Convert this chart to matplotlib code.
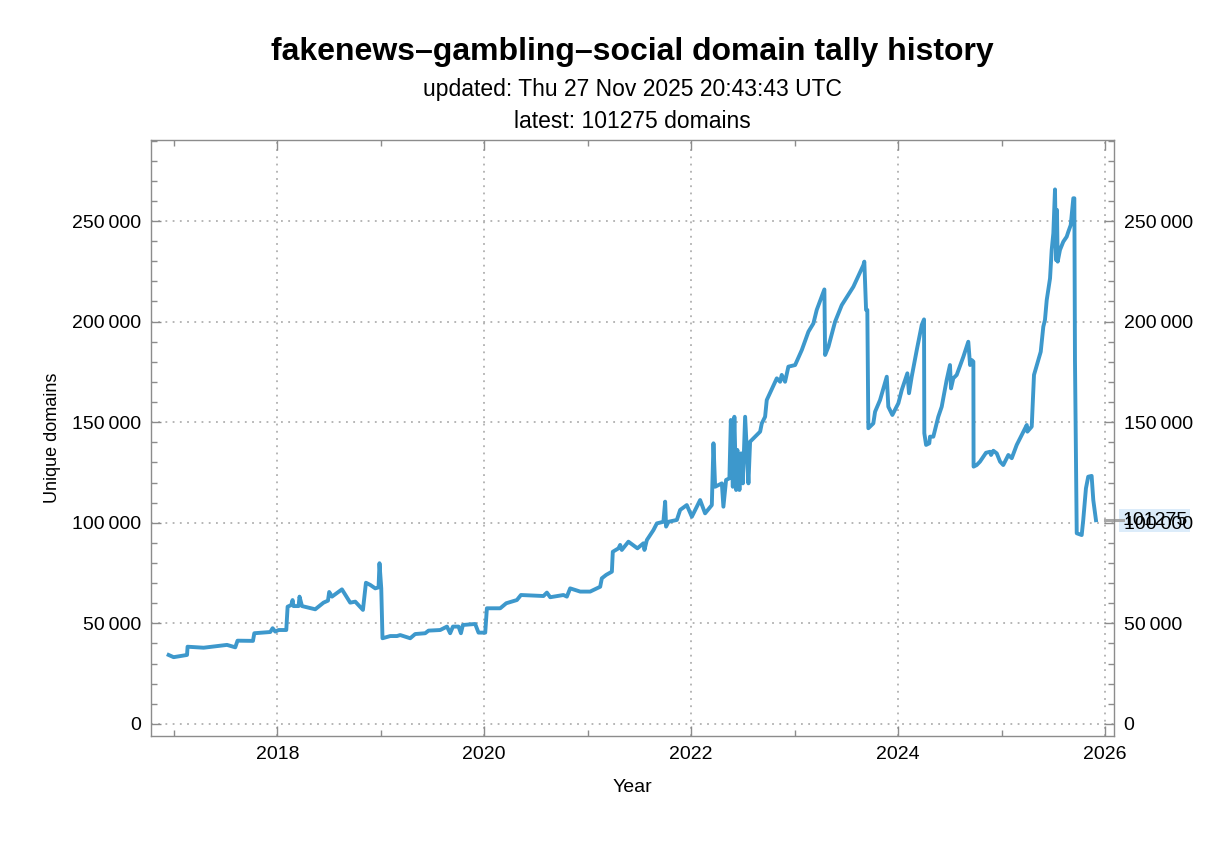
import matplotlib
matplotlib.use("Agg")
import matplotlib.pyplot as plt
from matplotlib.ticker import MultipleLocator, FuncFormatter

plt.rcParams['font.family'] = ['Liberation Sans', 'DejaVu Sans']

# history (decimal year, unique domains)
years = [
    2016.950, 2016.998, 2017.128, 2017.133, 2017.288, 2017.514, 2017.594, 2017.616, 2017.765, 2017.778,
    2017.932, 2017.955, 2017.981, 2018.013, 2018.087, 2018.100, 2018.135, 2018.148, 2018.157, 2018.206,
    2018.215, 2018.239, 2018.367, 2018.447, 2018.490, 2018.502, 2018.529, 2018.625, 2018.705, 2018.754,
    2018.828, 2018.857, 2018.899, 2018.947, 2018.979, 2018.988, 2019.005, 2019.017, 2019.092, 2019.157,
    2019.188, 2019.285, 2019.333, 2019.430, 2019.462, 2019.575, 2019.640, 2019.671, 2019.698, 2019.752,
    2019.775, 2019.794, 2019.913, 2019.945, 2020.010, 2020.026, 2020.155, 2020.213, 2020.316, 2020.355,
    2020.573, 2020.606, 2020.638, 2020.766, 2020.799, 2020.831, 2020.928, 2021.024, 2021.121, 2021.137,
    2021.179, 2021.234, 2021.243, 2021.298, 2021.314, 2021.330, 2021.394, 2021.481, 2021.539, 2021.549,
    2021.572, 2021.636, 2021.669, 2021.732, 2021.749, 2021.758, 2021.781, 2021.862, 2021.894, 2021.958,
    2022.007, 2022.087, 2022.135, 2022.200, 2022.216, 2022.232, 2022.297, 2022.312, 2022.338, 2022.370,
    2022.384, 2022.403, 2022.418, 2022.435, 2022.447, 2022.467, 2022.483, 2022.500, 2022.522, 2022.554,
    2022.570, 2022.667, 2022.683, 2022.715, 2022.731, 2022.828, 2022.860, 2022.876, 2022.908, 2022.940,
    2023.005, 2023.070, 2023.134, 2023.182, 2023.214, 2023.288, 2023.295, 2023.327, 2023.391, 2023.456,
    2023.568, 2023.665, 2023.674, 2023.691, 2023.703, 2023.713, 2023.761, 2023.778, 2023.826, 2023.891,
    2023.906, 2023.945, 2024.003, 2024.036, 2024.090, 2024.106, 2024.132, 2024.181, 2024.229, 2024.251,
    2024.254, 2024.271, 2024.302, 2024.309, 2024.341, 2024.389, 2024.422, 2024.470, 2024.502, 2024.512,
    2024.534, 2024.567, 2024.631, 2024.679, 2024.696, 2024.712, 2024.728, 2024.730, 2024.760, 2024.792,
    2024.850, 2024.889, 2024.899, 2024.921, 2024.954, 2024.986, 2025.017, 2025.066, 2025.099, 2025.147,
    2025.195, 2025.244, 2025.250, 2025.292, 2025.314, 2025.379, 2025.404, 2025.420, 2025.437, 2025.469,
    2025.485, 2025.501, 2025.517, 2025.527, 2025.536, 2025.543, 2025.565, 2025.597, 2025.630, 2025.646,
    2025.669, 2025.694, 2025.704, 2025.710, 2025.727, 2025.775, 2025.790, 2025.816, 2025.838, 2025.871,
    2025.887, 2025.913,
]
domains = [
    34300, 33200, 34300, 38400, 37900, 39300, 38100, 41400, 41300, 45100,
    45700, 47600, 45900, 46700, 46700, 58300, 59100, 61600, 58600, 58600,
    63300, 58600, 57000, 60300, 61300, 65600, 63300, 66900, 60300, 60800,
    56700, 70200, 69100, 67400, 67900, 79900, 67400, 42600, 43700, 43700,
    44200, 42600, 44700, 45100, 46400, 46700, 48400, 45100, 48400, 48400,
    45100, 49200, 49700, 45400, 45400, 57500, 57500, 60000, 61600, 64100,
    63600, 65300, 63000, 64100, 63300, 67400, 65800, 65800, 68200, 72400,
    74100, 75700, 85600, 87300, 89000, 86500, 90600, 87300, 89800, 86500,
    91400, 96400, 99700, 100500, 110500, 98100, 100500, 101400, 106400, 108800,
    103000, 111300, 104700, 108800, 139500, 117900, 119600, 108000, 121300, 122100,
    151100, 117900, 152700, 116300, 136200, 116300, 134500, 119600, 152700, 119600,
    140300, 145300, 149400, 152700, 161000, 171800, 170100, 173500, 170100, 177600,
    178400, 185900, 195000, 199100, 205800, 216000, 183400, 187500, 199900, 208200,
    217300, 228100, 229800, 205800, 205800, 147000, 149400, 155200, 161000, 172600,
    157700, 153600, 159400, 166000, 174300, 164400, 172600, 185900, 198300, 201100,
    144500, 138700, 139500, 142800, 142800, 152700, 157700, 171000, 178400, 166800,
    171800, 173500, 182500, 190000, 178400, 180900, 180100, 127900, 128700, 130400,
    134800, 135300, 133700, 135800, 134500, 130400, 128700, 133700, 132100, 138700,
    143600, 148600, 145300, 147800, 173500, 185000, 197500, 200800, 210700, 221500,
    235600, 243900, 265700, 230600, 255500, 229800, 235600, 239700, 242200, 244700,
    248000, 261300, 261300, 180900, 94800, 93900, 101400, 117100, 122900, 123300,
    111300, 101275,
]

title = "fakenews\u2013gambling\u2013social domain tally history"
updated = "updated: Thu 27 Nov 2025 20:43:43 UTC"
latest = domains[-1]

line_color = "#3d98cc"
frame_color = "#8c8c8c"

fig = plt.figure(figsize=(12.32, 8.41), dpi=100)
ax = fig.add_axes([0.1226, 0.1249, 0.7816, 0.7086])

ax.plot(years, domains, color=line_color, lw=2.8, solid_joinstyle="round", zorder=3)

ax.set_xlim(2016.78, 2026.087)
ax.set_ylim(-5960, 290250)

ax.xaxis.set_major_locator(MultipleLocator(2))
ax.xaxis.set_minor_locator(MultipleLocator(1))
ax.yaxis.set_major_locator(MultipleLocator(50000))
ax.yaxis.set_minor_locator(MultipleLocator(10000))
ax.yaxis.set_major_formatter(FuncFormatter(
    lambda v, p: f"{int(v):,}".replace(",", "\u2009")))
ax.xaxis.set_major_formatter(FuncFormatter(lambda v, p: f"{int(round(v))}"))

ax.grid(True, which="major", color="#b0b0b0", ls=(0, (1, 3)), lw=1.3)
for s in ax.spines.values():
    s.set_color(frame_color)
    s.set_linewidth(1.0)
ax.tick_params(which="both", direction="in", color=frame_color,
               top=True, right=True, labelright=True, labelsize=14)
ax.tick_params(which="major", length=7, width=1, pad=7)
ax.tick_params(which="minor", length=4.5, width=1)

ax.set_xlabel("Year", fontsize=14, labelpad=12)
ax.set_ylabel("Unique domains", fontsize=13, labelpad=8)

# callout for the latest value on the right edge (drawn under the tick labels)
trans = ax.get_yaxis_transform()
ax.plot([0.991, 1.009], [latest, latest], color="#a8a8a8", lw=2.2,
        transform=trans, clip_on=False)
ax.text(1.0085, latest, f"{latest}", transform=trans, fontsize=14,
        va="center", ha="left", zorder=1,
        bbox=dict(boxstyle="square,pad=0.15", fc="#dcecfa", ec="none"))

fig.text(0.513, 0.938, title, ha="center", va="center", fontsize=23, fontweight="bold")
fig.text(0.513, 0.893, updated, ha="center", va="center", fontsize=16.5)
fig.text(0.513, 0.856, f"latest: {latest} domains", ha="center", va="center", fontsize=16.5)

fig.savefig("out.png", dpi=100)
